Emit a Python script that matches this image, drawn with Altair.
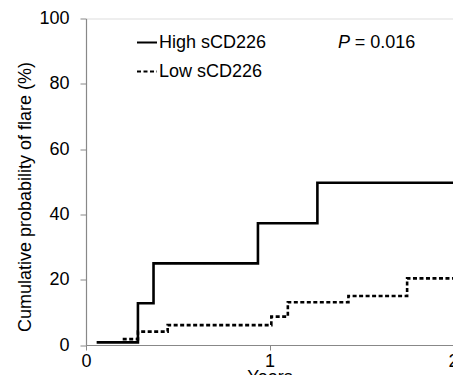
import altair as alt
import pandas as pd

high_x = [0.058, 0.283, 0.368, 0.937, 1.261, 2.0]
high_y = [0.8, 12.8, 25.0, 37.3, 49.7, 49.7]
low_x = [0.2, 0.283, 0.445, 1.01, 1.1, 1.43, 1.75, 2.0]
low_y = [1.8, 4.1, 6.1, 8.7, 13.1, 15.0, 20.4, 20.4]
series = ["High sCD226", "Low sCD226"]
y_ticks = [0, 20, 40, 60, 80, 100]

df = pd.DataFrame(
    [{"t": x, "p": y, "g": series[0]} for x, y in zip(high_x, high_y)]
    + [{"t": x, "p": y, "g": series[1]} for x, y in zip(low_x, low_y)]
)

FONT = "Liberation Sans"

x_axis = alt.Axis(tickCount=2, format="d", title="Years",
                  titleFontSize=18, titleFont=FONT, titleFontWeight="normal",
                  titleBaseline="alphabetic", titleY=37, titleColor="#000",
                  labelFontSize=18, labelFont=FONT, labelColor="#000",
                  labelOverlap=False, labelFlush=False,
                  labelPadding=2, tickSize=5, tickColor="#888",
                  domainColor="#888", domainWidth=1.2, grid=False)
y_axis = alt.Axis(values=y_ticks,
                  title="Cumulative probability of flare (%)",
                  titleFontSize=18, titleFont=FONT, titleFontWeight="normal",
                  titleBaseline="alphabetic", titleAlign="center", titleAngle=270,
                  titleX=-56, titleY=178, titleColor="#000",
                  labelFontSize=18, labelFont=FONT, labelColor="#000",
                  labelOverlap=False,
                  labelPadding=11, tickSize=6, tickColor="#888",
                  domainColor="#888", domainWidth=1.2, grid=False)


def xe():
    return alt.X("t:Q", scale=alt.Scale(domain=[0, 2], nice=False), axis=x_axis)


def ye():
    return alt.Y("p:Q", scale=alt.Scale(domain=[0, 100], nice=False), axis=y_axis)


lines = alt.Chart(df).mark_line(interpolate="step-after", strokeWidth=2.6, color="#000").encode(
    x=xe(), y=ye(),
    strokeDash=alt.StrokeDash("g:N", scale=alt.Scale(domain=series, range=[[1, 0], [4, 2.5]]),
                              legend=alt.Legend(title=None, orient="none", legendX=50, legendY=13,
                                                symbolType="stroke", symbolSize=400,
                                                symbolStrokeWidth=2, symbolStrokeColor="#000",
                                                labelFontSize=18, labelFont=FONT, labelColor="#000",
                                                labelOffset=1, rowPadding=9)),
)

ptxt = pd.DataFrame({"t": [1.373], "p": [92.5], "s": ["P"]})
vtxt = pd.DataFrame({"t": [1.465], "p": [92.5], "s": ["= 0.016"]})

p_mark = alt.Chart(ptxt).mark_text(align="left", baseline="middle", fontSize=18,
                                   font=FONT, fontStyle="italic", color="#000").encode(
    x=xe(), y=ye(), text="s:N")
v_mark = alt.Chart(vtxt).mark_text(align="left", baseline="middle", fontSize=18,
                                   font=FONT, color="#000").encode(
    x=xe(), y=ye(), text="s:N")

chart = alt.layer(lines, p_mark, v_mark).properties(
    width=367, height=326.5,
    autosize=alt.AutoSizeParams(type="none"),
    padding={"left": 78, "top": 10.5, "right": 0, "bottom": 30},
).configure_view(stroke=None).configure(background="white")

chart.save("out.html", embed_options={"renderer": "svg", "actions": False})
